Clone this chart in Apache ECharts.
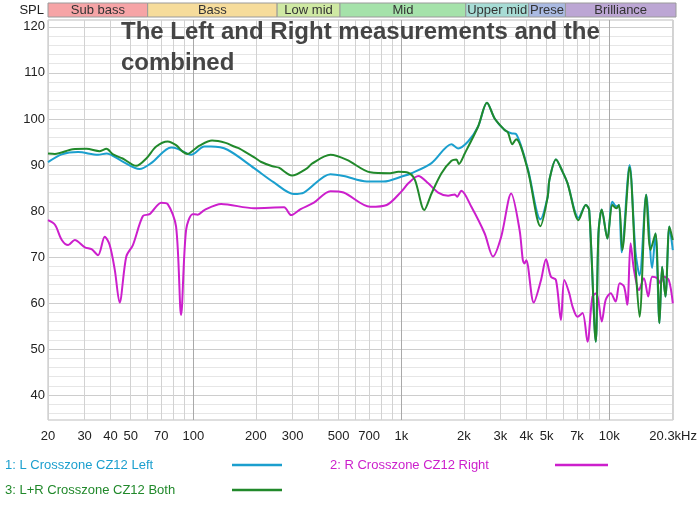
<!DOCTYPE html>
<html><head><meta charset="utf-8">
<script src="https://cdn.jsdelivr.net/npm/echarts@6/dist/echarts.min.js"></script>
<style>html,body{margin:0;padding:0;background:#fff}#c{width:700px;height:505px}</style>
</head><body><div id="c"></div>
<script>
// ---- data ----
const leftFreq = [20,23.3,27.9,34.8,38.2,45.1,55.1,62.7,78.2,84.1,93.9,97.5,113,121.5,146,196,244,304,340,456,528,683,821,1023,1121,1398,1743,1876,2095,2339,2583,2812,3139,3377,3568,4058,4668,5060,5155,5544,5969,6306,7119,7717,8011,8616,8876,9205,9803,10357,10825,11150,11472,12530,13386,13992,15063,16093,16689,17440,17969,18636,19475,20223];
const leftSpl = [90.6,92.3,92.8,92.2,92.5,90.9,89.1,90.4,93.8,93.5,92.4,92.2,94.0,94.0,93.3,89.3,86.2,83.7,84.0,88.0,87.6,86.4,86.4,87.6,88.2,90.4,94.5,93.6,95.1,98.3,103.5,100.1,97.6,96.9,96.7,89.2,78.2,83.1,86.7,91.2,88.5,86.0,78.5,81.3,80.2,51.6,75.1,80.3,74.0,82.0,81.0,81.3,71.0,90.0,71.0,66.0,83.5,67.6,75.1,55.6,67.9,61.4,76.6,71.5];

const rightFreq = [20,21.6,23.3,25.0,26.9,30.1,32.4,34.8,37.5,39.6,41.9,44.2,47.6,51.2,57.2,61.6,70.1,75.3,82.6,87.3,92.3,99.2,105,113,136,196,273,295,328,380,456,528,709,851,1000,1081,1208,1348,1505,1680,1809,1856,1945,2173,2518,2760,3024,3377,3705,3842,3914,3990,4335,4700,4966,5246,5544,5858,6082,6425,6663,7041,7441,7862,8308,8682,9205,9620,10165,10740,11225,11780,12216,12669,13154,13899,14683,15400,16093,17004,17633,18308,19345,20223];
const rightSpl = [78.0,77.0,73.7,72.6,73.7,72.1,71.7,70.4,74.4,72.6,67.2,60.1,70.1,72.6,78.9,79.3,81.8,81.5,76.6,57.4,75.9,79.3,79.2,80.2,81.5,80.6,80.8,79.1,80.4,81.8,84.3,84.0,80.9,81.3,84.2,86.0,87.6,86.0,84.0,83.3,83.6,83.1,84.4,80.9,75.1,70.1,74.4,83.8,75.9,69.3,68.6,69.3,60.1,65.0,69.5,65.7,65.0,56.3,65.0,62.1,59.2,57.0,57.8,51.6,61.4,62.1,56.0,60.7,62.1,60.3,64.3,63.6,59.6,73.0,67.2,62.8,65.4,61.4,65.7,65.4,64.3,65.7,65.0,59.9];

const bothFreq = [20,21.6,26.3,30.6,35.5,38.2,41.1,45.7,53.2,59.4,66.3,75.3,82.6,88.9,93.9,100,107,123,143,157,166,200,211,240,258,298,353,372,456,548,709,884,968,1080,1164,1290,1398,1561,1743,1841,1891,2020,2339,2583,2812,3139,3256,3415,3568,4058,4668,5060,5155,5544,5969,6306,7119,7717,8011,8616,8876,9205,9803,10357,10825,11150,11562,12530,13386,13992,15063,15795,16689,17440,17969,18636,19475,20223];
const bothSpl = [92.5,92.4,93.4,93.5,93.0,93.5,92.3,91.4,89.8,91.4,94.0,95.1,94.3,92.9,92.4,93.2,94.2,95.3,94.8,94.0,93.6,91.4,90.7,89.7,89.4,87.7,89.3,90.3,92.2,91.1,88.4,88.2,88.5,88.3,86.7,80.2,83.8,88.2,90.9,91.2,90.2,92.5,98.3,103.5,100.1,97.6,97.1,94.5,95.6,88.9,76.7,83.1,86.7,91.2,88.5,86.0,78.0,81.3,80.2,51.6,75.1,80.3,74.0,81.3,80.6,81.3,71.5,89.5,67.9,57.0,83.5,71.5,75.1,55.6,67.9,61.4,76.6,73.7];

const seriesNames = ['1: L Crosszone CZ12 Left', '2: R Crosszone CZ12 Right', '3: L+R Crosszone CZ12 Both'];

const xGridVals = [20,30,40,50,60,70,80,90,100,200,300,400,500,600,700,800,900,1000,2000,3000,4000,5000,6000,7000,8000,9000,10000,20000];
const xLabelVals = [20,30,40,50,70,100,200,300,500,700,1000,2000,3000,4000,5000,7000,10000,20300];
const yGridVals = [36,38,40,42,44,46,48,50,52,54,56,58,60,62,64,66,68,70,72,74,76,78,80,82,84,86,88,90,92,94,96,98,100,102,104,106,108,110,112,114,116,118,120];
const yLabelVals = [40,50,60,70,80,90,100,110,120];

const bandNames = ['Sub bass','Bass','Low mid','Mid','Upper mid','Presence','Brilliance'];
const bandEdges = [20,60,250,500,2000,4000,6000,20300];
const bandColors = ['#f6a4a6','#f6dc9b','#cfe9a3','#a5e2aa','#a7dcd5','#aabae2','#bca6d4'];

// ---- chart ----
const FONT = '"Liberation Sans", Arial, Helvetica, sans-serif';
const COLORS = ['#1b9fce', '#cc1fcc', '#21892b'];
const zip = (f, s) => f.map((v, i) => [v, s[i]]);
const fmtX = v => {
  const r = Math.round(v);
  if (r === 20300) return '20.3kHz';
  if (r >= 1000) return (r / 1000) + 'k';
  return String(r);
};

const chart = echarts.init(document.getElementById('c'), null, {renderer: 'canvas'});

const bandAreas = bandNames.map((n, i) => [
  {name: n, xAxis: bandEdges[i], itemStyle: {color: bandColors[i], borderColor: '#9a9a9a', borderWidth: 1},
   label: n === 'Presence' ? {width: 40, overflow: 'truncate', ellipsis: ''} : {}},
  {xAxis: bandEdges[i + 1]}
]);

const mkSeries = (name, f, s, c) => ({
  name, type: 'line', data: zip(f, s), xAxisIndex: 0, yAxisIndex: 0,
  showSymbol: false, symbol: 'none', smooth: 0.3, clip: true,
  lineStyle: {color: c, width: 2}, itemStyle: {color: c}
});

const legendGraphics = [];
const legendPos = [[5, 465, 232, 282], [330, 465, 555, 608], [5, 490, 232, 282]];
seriesNames.forEach((n, i) => {
  const p = legendPos[i];
  legendGraphics.push({type: 'text', x: p[0], y: p[1], silent: true,
    style: {text: n, fill: COLORS[i], font: '13px ' + FONT, verticalAlign: 'middle'}});
  legendGraphics.push({type: 'line', silent: true, shape: {x1: p[2], y1: p[1], x2: p[3], y2: p[1]},
    style: {stroke: COLORS[i], lineWidth: 2.5}});
});

chart.setOption({
  animation: false,
  backgroundColor: '#fff',
  title: {
    text: 'The Left and Right measurements and the\ncombined',
    left: 121, top: 17, padding: 0,
    textStyle: {fontFamily: FONT, fontSize: 24, fontWeight: 'bold', color: '#454545', lineHeight: 31}
  },
  grid: [
    {left: 48, right: 24, top: 20, bottom: 85, show: true, borderColor: '#bdbdbd', borderWidth: 1},
    {left: 48, right: 24, top: 3, height: 14}
  ],
  xAxis: [
    {type: 'log', logBase: 10, min: 20, max: 20300, gridIndex: 0,
     axisLine: {show: false},
     axisTick: {show: false, customValues: xGridVals},
     axisLabel: {customValues: xLabelVals, formatter: fmtX, color: '#222', fontSize: 13, fontFamily: FONT, margin: 10, hideOverlap: false},
     splitLine: {show: true, lineStyle: {width: 1, color: ['#d2d2d2','#d2d2d2','#d2d2d2','#d2d2d2','#d2d2d2','#d2d2d2','#d2d2d2','#d2d2d2','#a9a9a9']}}},
    {type: 'log', logBase: 10, min: 20, max: 20300, gridIndex: 1, show: false}
  ],
  yAxis: [
    {type: 'value', min: 34.57, max: 121.5, gridIndex: 0,
     axisLine: {show: false},
     axisTick: {show: false, customValues: yGridVals},
     axisLabel: {customValues: yLabelVals, color: '#222', fontSize: 13, fontFamily: FONT, margin: 3},
     splitLine: {show: true, lineStyle: {width: 1, color: ['#e6e6e6','#e6e6e6','#cdcdcd','#e6e6e6','#e6e6e6']}}},
    {type: 'value', min: 0, max: 1, gridIndex: 1, show: false}
  ],
  graphic: [
    {type: 'text', x: 44, y: 10, silent: true,
     style: {text: 'SPL', fill: '#222', font: '13px ' + FONT, align: 'right', verticalAlign: 'middle'}}
  ].concat(legendGraphics),
  series: [
    mkSeries(seriesNames[0], leftFreq, leftSpl, COLORS[0]),
    mkSeries(seriesNames[1], rightFreq, rightSpl, COLORS[1]),
    mkSeries(seriesNames[2], bothFreq, bothSpl, COLORS[2]),
    {type: 'line', xAxisIndex: 1, yAxisIndex: 1, data: [], silent: true,
     markArea: {silent: true,
       label: {show: true, position: 'inside', color: '#333', fontSize: 13, fontFamily: FONT},
       data: bandAreas}}
  ]
});
</script></body></html>
